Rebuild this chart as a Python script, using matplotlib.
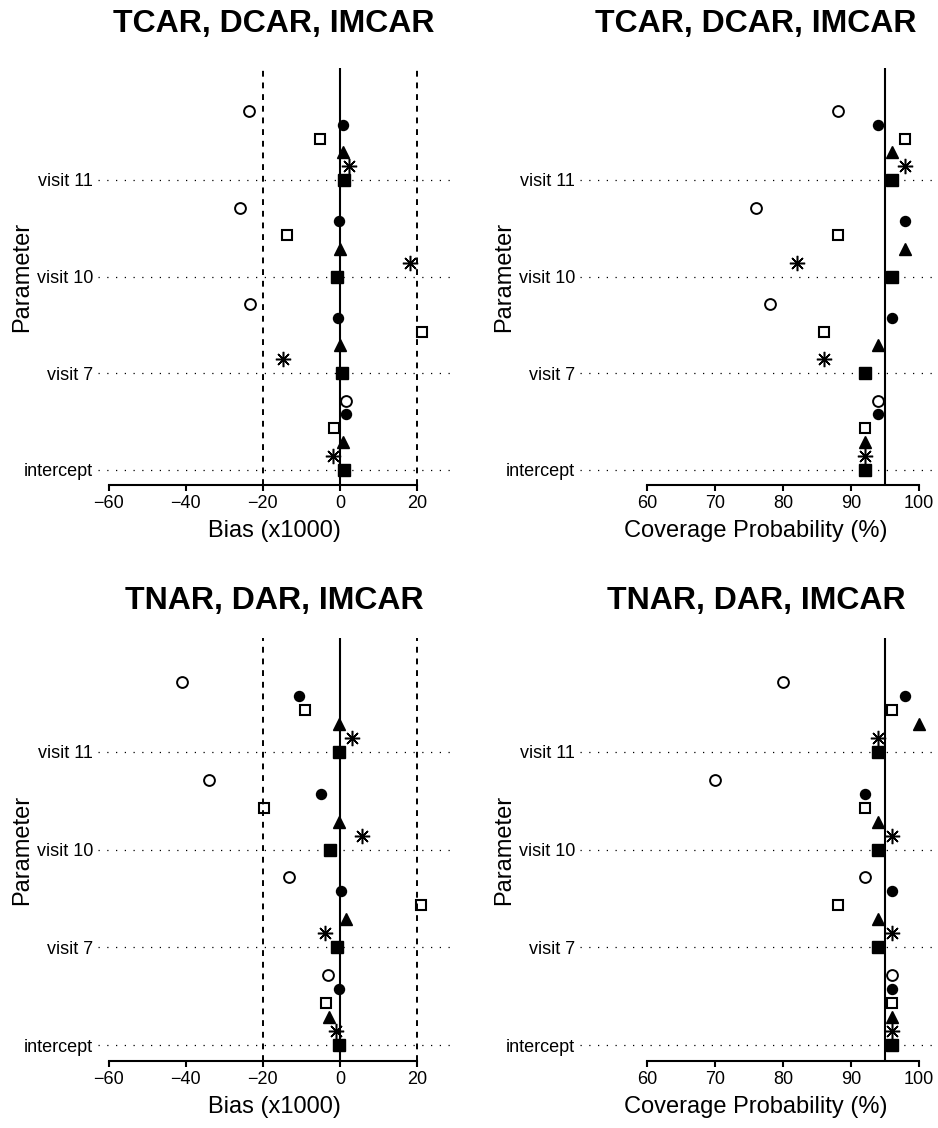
import matplotlib
matplotlib.use("Agg")
import matplotlib.pyplot as plt

plt.rcParams['font.family'] = ['Liberation Sans', 'DejaVu Sans']

params = ["intercept", "visit 7", "visit 10", "visit 11"]
titles = ["TCAR, DCAR, IMCAR", "TNAR, DAR, IMCAR"]

# bias (x1000), one list per marker series, values for intercept, visit 7, visit 10, visit 11
bias_top = {
    "sq_fill": [1.0, 0.6, -0.7, 1.2],
    "asterisk": [-1.7, -14.8, 18.1, 2.4],
    "tri_fill": [0.8, 0.0, 0.0, 0.9],
    "sq_open": [-1.6, 21.4, -13.7, -5.1],
    "circ_fill": [1.6, -0.5, -0.3, 0.7],
    "circ_open": [1.6, -23.4, -26.0, -23.7],
}
bias_bot = {
    "sq_fill": [-0.2, -0.7, -2.5, -0.2],
    "asterisk": [-1.0, -3.8, 5.7, 3.2],
    "tri_fill": [-2.8, 1.6, -0.3, -0.2],
    "sq_open": [-3.7, 21.1, -19.7, -9.1],
    "circ_fill": [-0.3, 0.3, -4.9, -10.6],
    "circ_open": [-3.0, -13.1, -34.1, -41.0],
}

# coverage probability (%)
cov_top = {
    "sq_fill": [92, 92, 96, 96],
    "asterisk": [92, 86, 82, 98],
    "tri_fill": [92, 94, 98, 96],
    "sq_open": [92, 86, 88, 98],
    "circ_fill": [94, 96, 98, 94],
    "circ_open": [94, 78, 76, 88],
}
cov_bot = {
    "sq_fill": [96, 94, 94, 94],
    "asterisk": [96, 96, 96, 94],
    "tri_fill": [96, 94, 94, 100],
    "sq_open": [96, 88, 92, 96],
    "circ_fill": [96, 96, 92, 98],
    "circ_open": [96, 92, 70, 80],
}

bias_ticks = [-60, -40, -20, 0, 20]
cov_ticks = [60, 70, 80, 90, 100]

# marker styles, bottom to top within a group
styles = {
    "sq_fill": dict(marker='s', ms=8, mfc='black', mec='black'),
    "asterisk": dict(marker=(8, 2, 0), ms=11, mfc='none', mec='black', mew=1.1),
    "tri_fill": dict(marker='^', ms=8.5, mfc='black', mec='black'),
    "sq_open": dict(marker='s', ms=7.5, mfc='none', mec='black', mew=1.5),
    "circ_fill": dict(marker='o', ms=7.2, mfc='black', mec='black'),
    "circ_open": dict(marker='o', ms=7.8, mfc='none', mec='black', mew=1.4),
}
order = ["sq_fill", "asterisk", "tri_fill", "sq_open", "circ_fill", "circ_open"]

W, H = 938, 1128
fig = plt.figure(figsize=(W / 100, H / 100), dpi=100)


def make_axes(x0, y0, x1, y1):
    return fig.add_axes([x0 / W, 1 - y1 / H, (x1 - x0) / W, (y1 - y0) / H])


def draw_panel(ax, data, kind, title, title_pad):
    ypos = [1, 2, 3, 4]
    for y in ypos:
        ax.axhline(y, color='black', lw=0.9, linestyle=(0, (1, 6)), zorder=1)
    if kind == "bias":
        ax.axvline(0, color='black', lw=1.5, zorder=2)
        for v in (-20, 20):
            ax.axvline(v, color='black', lw=1.4, linestyle=(0, (3, 3)), zorder=2)
        ax.set_xlim(-62.8, 28.6)
        ticks = bias_ticks
        ax.set_xlabel("Bias (x1000)", fontsize=17, labelpad=6)
    else:
        ax.axvline(95, color='black', lw=1.5, zorder=2)
        ax.set_xlim(50.1, 101.9)
        ticks = cov_ticks
        ax.set_xlabel("Coverage Probability (%)", fontsize=17, labelpad=6)

    for k, name in enumerate(order):
        yy = [y + k / 7 for y in ypos]
        ax.plot(data[name], yy, linestyle='none', zorder=3, clip_on=False, **styles[name])

    ax.set_ylim(0.84, 5.16)
    ax.set_yticks(ypos)
    ax.set_yticklabels(params)
    ax.tick_params(axis='y', length=0, pad=3.5, labelsize=13)
    ax.set_xticks(ticks)
    ax.tick_params(axis='x', length=4, width=1.5, pad=3, labelsize=13, direction='out')
    for s in ('top', 'right', 'left'):
        ax.spines[s].set_visible(False)
    ax.spines['bottom'].set_linewidth(1.5)
    ax.spines['bottom'].set_bounds(ticks[0], ticks[-1])
    ax.set_title(title, fontsize=23, fontweight='bold', pad=title_pad)
    ax.text(-0.215, 0.5, "Parameter", rotation=90, fontsize=17,
            ha='center', va='center', transform=ax.transAxes)


ax1 = make_axes(98, 68, 450, 485)
ax2 = make_axes(580, 68, 932, 485)
ax3 = make_axes(98, 638, 450, 1061)
ax4 = make_axes(580, 638, 932, 1061)

draw_panel(ax1, bias_top, "bias", titles[0], 26)
draw_panel(ax2, cov_top, "cov", titles[0], 26)
draw_panel(ax3, bias_bot, "bias", titles[1], 21)
draw_panel(ax4, cov_bot, "cov", titles[1], 21)

fig.savefig("out.png", dpi=100, facecolor='white')
